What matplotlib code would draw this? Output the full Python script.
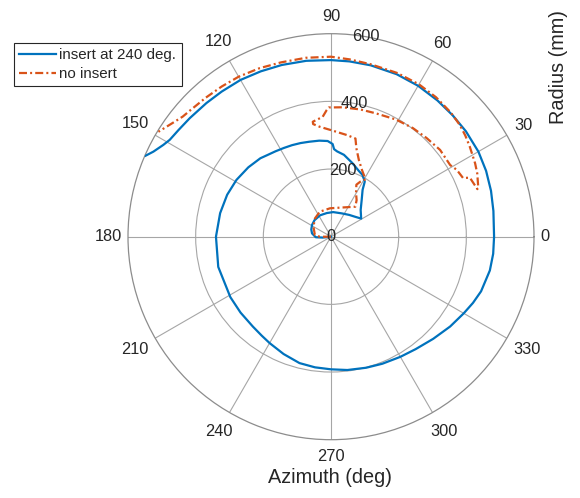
import numpy as np
import matplotlib
matplotlib.use("Agg")
import matplotlib.pyplot as plt

plt.rcParams['font.family'] = ['Liberation Sans', 'DejaVu Sans']

# Azimuth (deg) and radius (mm) along each trace
insert_theta = [190, 186, 182, 170, 160, 148, 135, 117, 100, 85, 65, 50, 40, 31,
                42, 50, 56, 58.5, 63, 67, 74, 81, 86, 88, 89, 92, 97, 103, 108, 113,
                118, 123, 128, 132, 140, 149, 158, 168, 180, 195, 211, 220, 229, 235,
                240, 248, 256, 263, 270, 277, 285, 292, 300, 307, 315, 323, 330, 335,
                340, 348, 354, 360, 9, 16, 23, 30, 38, 45, 52, 60, 68, 77, 84, 90,
                98, 106, 113, 120, 127, 133, 140, 145, 149, 151.3, 154.4, 156.4]
insert_r = [0, 25, 45, 57, 62, 66, 69, 71, 71, 73, 76, 84, 92, 104,
            118, 141, 167, 191, 205, 211, 227, 245, 253, 259, 274, 283, 286, 288, 291, 294,
            297, 301, 306, 312, 319, 326, 331, 335, 340, 345, 347, 349, 352, 357,
            363, 374, 385, 389, 392, 397, 401, 405, 410, 416, 427, 441, 453, 463,
            472, 480, 482, 482, 486, 492, 498, 503, 506, 508, 511, 515, 518, 520, 521, 522,
            525, 528, 531, 535, 537, 540, 545, 550, 556, 565, 582, 598]

noinsert_theta = [180, 180, 174, 150, 131, 114, 92, 67, 51, 55, 60, 64, 62, 59, 65,
                  70, 74, 76, 81, 90, 96, 99, 99, 94, 92, 91, 85, 77, 70, 61, 53, 46,
                  38.5, 31, 28, 24, 23, 18, 19, 23.4, 27, 33, 37, 41, 46, 53, 60, 68,
                  77, 84, 90, 98, 106, 113, 120, 126, 132, 138, 141, 144, 146.5, 148.7]
noinsert_r = [0, 33, 48, 60, 72, 81, 84, 94, 114, 132, 148, 171, 184, 198, 217,
              241, 272, 299, 304, 315, 327, 337, 344, 355, 374, 382, 384, 386, 388, 396, 402, 406,
              412, 411, 421, 427, 446, 455, 460, 471, 478, 489, 497, 504, 510, 516, 520, 522,
              523, 527, 532, 534, 536, 541, 546, 549, 553, 559, 564, 575, 586, 597]

theta_ticks = [0, 30, 60, 90, 120, 150, 180, 210, 240, 270, 300, 330]
r_ticks = [0, 200, 400, 600]

BLUE = '#0072BD'
ORANGE = '#D95319'
TXT = '#262626'
GRID = '#a6a6a6'

W, H, DPI = 580, 498, 100
fig = plt.figure(figsize=(W / DPI, H / DPI), dpi=DPI)
cx, cy, R = 331.0, 236.7, 203.0
ax = fig.add_axes([(cx - R) / W, (H - cy - R) / H, 2 * R / W, 2 * R / H],
                  projection='polar')

ax.plot(np.deg2rad(insert_theta), insert_r, color=BLUE, lw=1.6,
        label='insert at 240 deg.', zorder=3, solid_joinstyle='round')
ax.plot(np.deg2rad(noinsert_theta), noinsert_r, color=ORANGE, lw=1.6,
        linestyle=(0, (3.6, 1.4, 0.9, 1.4)), label='no insert', zorder=3)

ax.set_ylim(0, r_ticks[-1])
ax.set_rticks(r_ticks[1:-1])
ax.set_xticks(np.deg2rad(theta_ticks))
ax.set_xticklabels([])
ax.set_yticklabels([])
ax.tick_params(length=0)
ax.grid(True, color=GRID, lw=0.8)
ax.spines['polar'].set_color('#8c8c8c')
ax.spines['polar'].set_linewidth(0.9)

tick_fs = 11.8
fs_px = tick_fs * DPI / 72
# azimuth labels outside the rim
for t in theta_ticks:
    a = np.deg2rad(t)
    s = str(t)
    w = len(s) * 0.556 * fs_px
    h = 0.716 * fs_px
    d = 6 + 5 * abs(np.sin(a)) + abs(np.cos(a)) * w / 2 + abs(np.sin(a)) * h / 2
    off = d * 72 / DPI
    ax.annotate(s, xy=(a, r_ticks[-1]), xytext=(off * np.cos(a), off * np.sin(a)),
                textcoords='offset points', ha='center', va='center',
                fontsize=tick_fs, color=TXT, annotation_clip=False)

# radius labels along the 80 deg spoke
for r in r_ticks:
    ax.text(np.deg2rad(80), r, str(r), ha='center', va='center',
            fontsize=tick_fs, color=TXT, zorder=5)

fig.text(559 / W, 1 - 67 / H, 'Radius (mm)', rotation=90, ha='center', va='center',
         fontsize=14.3, color=TXT)
fig.text(330 / W, 1 - 477 / H, 'Azimuth (deg)', ha='center', va='center',
         fontsize=14.3, color=TXT)

leg = fig.legend(loc='upper left', bbox_to_anchor=(14 / W, 1 - 43 / H),
                 fontsize=10.9, frameon=True, fancybox=False, framealpha=1,
                 edgecolor=TXT, borderpad=0.35, handlelength=2.45,
                 handletextpad=0.2, labelspacing=0.3, borderaxespad=0)
leg.get_frame().set_linewidth(0.8)
for t in leg.get_texts():
    t.set_color(TXT)

fig.savefig('out.png', dpi=DPI)
